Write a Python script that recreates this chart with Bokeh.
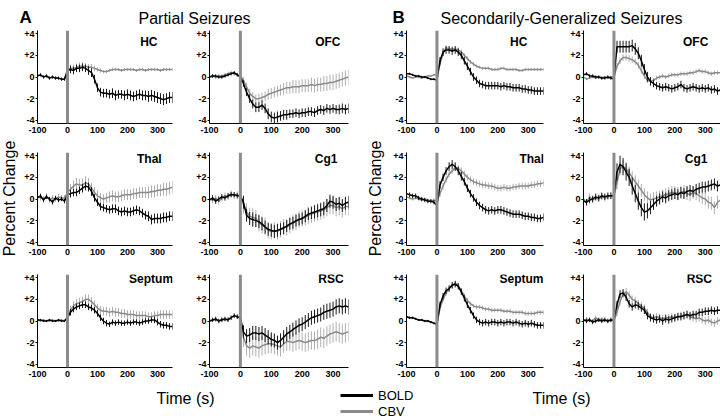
from bokeh.plotting import figure
from bokeh.layouts import row, column
from bokeh.models import (Range1d, FixedTicker, Span, Label, Legend, LegendItem,
                          ColumnDataSource)
from bokeh.embed import file_html
from bokeh.resources import INLINE

# ---------------- data (percent change, mean and error half-width) ----------------
TIME_S = [-100, -90, -80, -70, -60, -50, -40, -30, -20, -10,
          0,
          10, 20, 30, 40, 50, 60, 70, 80, 90, 100,
          110, 120, 130, 140, 150, 160, 170, 180, 190, 200,
          210, 220, 230, 240, 250, 260, 270, 280, 290, 300,
          310, 320, 330, 340, 350]

X_TICKS = [-100, 0, 100, 200, 300]
X_TICK_LABELS = ["-100", "0", "100", "200", "300"]
Y_TICKS = [-4, -2, 0, 2, 4]
Y_TICK_LABELS = ["-4", "-2", "0", "+2", "+4"]

GROUP_TITLES = ["Partial Seizures", "Secondarily-Generalized Seizures"]
GROUP_LETTERS = ["A", "B"]
REGIONS = [["HC", "OFC"], ["Thal", "Cg1"], ["Septum", "RSC"]]
SERIES_NAMES = ["BOLD", "CBV"]

# ---- A: partial seizures ----
A_HC_BOLD = [0.1, 0.2, 0.0, 0.1, -0.1, 0.0, -0.1, -0.1, -0.2, -0.2,
             0.6,
             0.7, 0.6, 0.8, 0.8, 0.9, 0.8, 0.6, 0.4, -0.2, -1.0,
             -1.4, -1.5, -1.5, -1.6, -1.5, -1.7, -1.6, -1.6, -1.7, -1.6,
             -1.7, -1.8, -1.7, -1.6, -1.7, -1.7, -1.8, -1.7, -1.8, -1.9,
             -2.0, -2.1, -2.0, -1.9, -1.9]
A_HC_BOLD_SEM = [0.15, 0.15, 0.15, 0.15, 0.15, 0.15, 0.15, 0.15, 0.15, 0.15,
                 0.3,
                 0.35, 0.35, 0.35, 0.35, 0.35, 0.35, 0.4, 0.4, 0.4, 0.4,
                 0.4, 0.4, 0.4, 0.4, 0.45, 0.45, 0.4, 0.4, 0.45, 0.45,
                 0.45, 0.45, 0.45, 0.45, 0.45, 0.45, 0.5, 0.5, 0.5, 0.5,
                 0.5, 0.5, 0.5, 0.5, 0.5]
A_HC_CBV = [0.1, 0.2, 0.0, 0.1, -0.1, 0.0, -0.1, -0.1, -0.2, -0.2,
            0.7,
            0.8, 0.8, 0.9, 1.0, 1.0, 1.0, 0.9, 0.9, 0.8, 0.7,
            0.6, 0.5, 0.5, 0.6, 0.7, 0.7, 0.7, 0.6, 0.7, 0.7,
            0.7, 0.7, 0.6, 0.7, 0.7, 0.6, 0.7, 0.7, 0.7, 0.7,
            0.6, 0.7, 0.7, 0.7, 0.7]
A_HC_CBV_SEM = [0.1, 0.1, 0.1, 0.1, 0.1, 0.1, 0.1, 0.1, 0.1, 0.1,
                0.3,
                0.35, 0.35, 0.35, 0.35, 0.35, 0.3, 0.3, 0.3, 0.25, 0.2,
                0.2, 0.15, 0.15, 0.15, 0.15, 0.15, 0.15, 0.15, 0.15, 0.15,
                0.15, 0.15, 0.15, 0.15, 0.15, 0.15, 0.15, 0.15, 0.15, 0.15,
                0.15, 0.15, 0.15, 0.15, 0.15]

A_OFC_BOLD = [0.0, 0.1, 0.1, 0.0, 0.0, 0.1, 0.2, 0.3, 0.4, 0.2,
              0.0,
              -0.6, -1.4, -2.0, -2.5, -2.8, -2.8, -2.6, -2.9, -3.4, -3.7,
              -3.8, -3.7, -3.6, -3.5, -3.5, -3.4, -3.4, -3.3, -3.4, -3.3,
              -3.3, -3.2, -3.2, -3.3, -3.1, -3.0, -3.1, -2.9, -3.0, -2.9,
              -3.0, -3.0, -2.9, -3.0, -2.9]
A_OFC_BOLD_SEM = [0.15, 0.15, 0.15, 0.15, 0.15, 0.15, 0.15, 0.15, 0.15, 0.15,
                  0.2,
                  0.3, 0.35, 0.4, 0.4, 0.45, 0.45, 0.45, 0.45, 0.5, 0.5,
                  0.5, 0.5, 0.45, 0.45, 0.45, 0.4, 0.4, 0.4, 0.4, 0.4,
                  0.4, 0.4, 0.4, 0.4, 0.4, 0.4, 0.4, 0.4, 0.4, 0.4,
                  0.4, 0.45, 0.45, 0.45, 0.45]
A_OFC_CBV = [0.0, 0.1, 0.0, 0.1, 0.1, 0.2, 0.3, 0.4, 0.3, 0.2,
             0.1,
             -0.3, -0.9, -1.5, -1.8, -2.0, -2.0, -1.9, -1.8, -1.6, -1.5,
             -1.4, -1.3, -1.2, -1.1, -1.0, -1.0, -0.9, -0.9, -0.9, -0.8,
             -0.8, -0.8, -0.7, -0.8, -0.7, -0.7, -0.6, -0.6, -0.5, -0.5,
             -0.4, -0.3, -0.2, -0.1, 0.0]
A_OFC_CBV_SEM = [0.2, 0.2, 0.2, 0.2, 0.2, 0.2, 0.2, 0.2, 0.2, 0.2,
                 0.2,
                 0.3, 0.35, 0.4, 0.4, 0.4, 0.45, 0.45, 0.45, 0.5, 0.5,
                 0.5, 0.5, 0.5, 0.55, 0.55, 0.55, 0.6, 0.6, 0.6, 0.6,
                 0.6, 0.6, 0.65, 0.65, 0.65, 0.65, 0.7, 0.7, 0.7, 0.7,
                 0.7, 0.7, 0.7, 0.7, 0.7]

A_THAL_BOLD = [0.1, 0.3, -0.1, 0.2, 0.0, -0.3, 0.1, -0.1, 0.0, -0.2,
               0.4,
               0.5, 0.6, 0.6, 0.8, 1.0, 1.2, 1.1, 0.7, 0.1, -0.3,
               -0.7, -0.8, -0.9, -1.0, -0.9, -0.9, -1.1, -1.2, -1.1, -1.2,
               -1.2, -1.1, -1.0, -1.1, -1.3, -1.5, -1.6, -1.9, -1.8, -1.8,
               -1.8, -1.7, -1.7, -1.6, -1.6]
A_THAL_BOLD_SEM = [0.2, 0.2, 0.2, 0.2, 0.2, 0.2, 0.2, 0.2, 0.2, 0.2,
                   0.3,
                   0.35, 0.35, 0.35, 0.35, 0.4, 0.4, 0.4, 0.4, 0.35, 0.35,
                   0.35, 0.35, 0.35, 0.35, 0.4, 0.4, 0.4, 0.4, 0.4, 0.4,
                   0.4, 0.4, 0.4, 0.4, 0.4, 0.4, 0.45, 0.45, 0.45, 0.45,
                   0.45, 0.45, 0.45, 0.45, 0.45]
A_THAL_CBV = [0.2, 0.1, 0.0, 0.3, -0.1, 0.1, 0.0, 0.2, 0.1, 0.1,
              0.6,
              0.9, 1.2, 1.4, 1.3, 1.3, 1.5, 1.4, 1.0, 0.6, 0.3,
              0.1, 0.0, 0.1, 0.2, 0.3, 0.2, 0.2, 0.3, 0.4, 0.4,
              0.4, 0.5, 0.5, 0.6, 0.6, 0.6, 0.6, 0.7, 0.7, 0.8,
              0.8, 0.9, 0.9, 1.0, 1.1]
A_THAL_CBV_SEM = [0.25, 0.25, 0.25, 0.25, 0.25, 0.25, 0.25, 0.25, 0.25, 0.25,
                  0.4,
                  0.5, 0.5, 0.55, 0.55, 0.6, 0.6, 0.55, 0.5, 0.5, 0.5,
                  0.45, 0.45, 0.45, 0.5, 0.5, 0.5, 0.5, 0.5, 0.5, 0.5,
                  0.5, 0.5, 0.5, 0.5, 0.5, 0.5, 0.55, 0.55, 0.55, 0.55,
                  0.55, 0.6, 0.6, 0.6, 0.6]

A_CG1_BOLD = [-0.1, 0.1, -0.2, 0.0, 0.2, 0.1, 0.3, 0.4, 0.4, 0.3,
              0.3,
              -0.3, -1.5, -1.8, -1.9, -2.0, -2.1, -2.3, -2.6, -2.8, -2.9,
              -3.0, -2.9, -2.8, -2.7, -2.5, -2.3, -2.2, -2.0, -1.9, -1.8,
              -1.6, -1.4, -1.3, -1.2, -1.1, -1.0, -0.9, -0.6, -0.2, -0.3,
              -0.5, -0.4, -0.6, -0.4, -0.3]
A_CG1_BOLD_SEM = [0.25, 0.25, 0.25, 0.25, 0.25, 0.25, 0.25, 0.25, 0.25, 0.25,
                  0.4,
                  0.6, 0.6, 0.6, 0.65, 0.6, 0.6, 0.6, 0.6, 0.6, 0.6,
                  0.6, 0.6, 0.55, 0.55, 0.55, 0.55, 0.55, 0.55, 0.55, 0.55,
                  0.55, 0.55, 0.55, 0.6, 0.6, 0.6, 0.6, 0.6, 0.6, 0.6,
                  0.6, 0.6, 0.6, 0.6, 0.6]
A_CG1_CBV = [0.0, -0.1, 0.1, -0.2, 0.1, 0.3, 0.2, 0.5, 0.3, 0.4,
             0.2,
             -0.5, -1.2, -1.6, -1.7, -1.8, -2.2, -2.4, -2.5, -2.9, -3.0,
             -2.9, -3.0, -2.8, -2.6, -2.6, -2.4, -2.2, -2.1, -1.9, -1.8,
             -1.7, -1.5, -1.4, -1.3, -1.2, -1.1, -1.0, -0.8, -0.6, -0.6,
             -0.8, -0.7, -0.9, -0.7, -0.7]
A_CG1_CBV_SEM = [0.3, 0.3, 0.3, 0.3, 0.3, 0.3, 0.3, 0.3, 0.3, 0.3,
                 0.5,
                 0.8, 0.8, 0.8, 0.85, 0.8, 0.8, 0.8, 0.8, 0.75, 0.75,
                 0.75, 0.75, 0.75, 0.75, 0.75, 0.75, 0.75, 0.75, 0.75, 0.75,
                 0.75, 0.8, 0.8, 0.8, 0.8, 0.8, 0.8, 0.8, 0.8, 0.8,
                 0.8, 0.8, 0.8, 0.8, 0.8]

A_SEPTUM_BOLD = [0.1, 0.1, 0.0, 0.0, 0.1, 0.0, 0.0, 0.1, 0.0, 0.0,
                 0.3,
                 0.8, 1.1, 1.3, 1.4, 1.5, 1.5, 1.3, 1.2, 1.0, 0.7,
                 0.3, 0.0, -0.2, -0.3, -0.1, -0.2, -0.1, -0.2, -0.2, -0.1,
                 -0.2, -0.1, -0.1, -0.2, -0.1, 0.0, 0.0, 0.1, 0.1, -0.1,
                 -0.3, -0.4, -0.4, -0.5, -0.5]
A_SEPTUM_BOLD_SEM = [0.1, 0.1, 0.1, 0.1, 0.1, 0.1, 0.1, 0.1, 0.1, 0.1,
                     0.2,
                     0.3, 0.3, 0.3, 0.3, 0.3, 0.3, 0.3, 0.3, 0.3, 0.3,
                     0.3, 0.3, 0.3, 0.25, 0.25, 0.25, 0.25, 0.25, 0.25, 0.25,
                     0.25, 0.25, 0.25, 0.25, 0.25, 0.25, 0.25, 0.25, 0.3, 0.3,
                     0.3, 0.3, 0.3, 0.3, 0.3]
A_SEPTUM_CBV = [0.1, 0.0, 0.1, 0.0, 0.0, 0.1, 0.0, 0.0, 0.1, 0.0,
                0.4,
                1.0, 1.4, 1.6, 1.7, 1.8, 2.0, 2.0, 1.8, 1.5, 1.2,
                1.0, 0.9, 0.9, 0.8, 0.9, 0.8, 0.8, 0.7, 0.7, 0.6,
                0.6, 0.6, 0.5, 0.5, 0.5, 0.5, 0.4, 0.4, 0.5, 0.5,
                0.6, 0.6, 0.6, 0.6, 0.6]
A_SEPTUM_CBV_SEM = [0.1, 0.1, 0.1, 0.1, 0.1, 0.1, 0.1, 0.1, 0.1, 0.1,
                    0.25,
                    0.4, 0.4, 0.45, 0.45, 0.45, 0.45, 0.45, 0.4, 0.4, 0.4,
                    0.4, 0.4, 0.4, 0.4, 0.4, 0.4, 0.4, 0.4, 0.4, 0.4,
                    0.4, 0.4, 0.4, 0.4, 0.4, 0.4, 0.4, 0.4, 0.4, 0.4,
                    0.4, 0.4, 0.4, 0.4, 0.4]

A_RSC_BOLD = [0.0, 0.1, 0.2, 0.0, 0.1, 0.2, 0.1, 0.3, 0.5, 0.4,
              0.3,
              -1.0, -1.4, -1.3, -1.1, -1.1, -1.2, -1.1, -1.3, -1.5, -1.7,
              -1.8, -2.0, -1.8, -1.5, -1.2, -1.0, -0.8, -0.6, -0.4, -0.3,
              -0.1, 0.1, 0.3, 0.4, 0.5, 0.6, 0.8, 0.9, 1.0, 1.1,
              1.3, 1.4, 1.3, 1.4, 1.3]
A_RSC_BOLD_SEM = [0.2, 0.2, 0.2, 0.2, 0.2, 0.2, 0.2, 0.2, 0.2, 0.2,
                  0.3,
                  0.6, 0.65, 0.65, 0.65, 0.65, 0.65, 0.65, 0.65, 0.65, 0.65,
                  0.65, 0.65, 0.65, 0.65, 0.65, 0.65, 0.65, 0.65, 0.65, 0.65,
                  0.65, 0.65, 0.65, 0.65, 0.65, 0.65, 0.7, 0.7, 0.7, 0.7,
                  0.7, 0.7, 0.7, 0.7, 0.7]
A_RSC_CBV = [0.0, 0.1, 0.1, 0.0, 0.2, 0.1, 0.2, 0.3, 0.5, 0.4,
             0.2,
             -1.5, -2.3, -2.5, -2.3, -2.4, -2.5, -2.3, -2.2, -2.1, -2.1,
             -2.2, -2.3, -2.4, -2.1, -1.9, -1.9, -2.0, -1.9, -1.8, -1.9,
             -2.0, -1.9, -1.8, -1.8, -1.7, -1.5, -1.6, -1.4, -1.2, -1.1,
             -1.0, -1.1, -1.2, -1.1, -1.0]
A_RSC_CBV_SEM = [0.2, 0.2, 0.2, 0.2, 0.2, 0.2, 0.2, 0.2, 0.2, 0.2,
                 0.4,
                 0.9, 0.9, 0.9, 0.9, 0.9, 0.9, 0.9, 0.9, 0.9, 0.9,
                 0.9, 0.9, 0.9, 0.85, 0.85, 0.85, 0.85, 0.85, 0.85, 0.85,
                 0.85, 0.85, 0.85, 0.85, 0.9, 0.9, 0.9, 0.9, 0.9, 0.9,
                 0.9, 0.9, 0.9, 0.9, 0.9]

# ---- B: secondarily-generalized seizures ----
B_HC_BOLD = [0.3, 0.3, 0.2, 0.1, 0.1, 0.0, 0.0, -0.1, -0.2, -0.2,
             -0.3,
             1.5, 2.3, 2.5, 2.5, 2.4, 2.5, 2.3, 2.0, 1.5, 1.0,
             0.5, 0.0, -0.3, -0.6, -0.7, -0.8, -0.8, -0.8, -0.8, -0.8,
             -0.9, -0.8, -0.9, -0.9, -1.0, -1.0, -1.0, -1.1, -1.1, -1.2,
             -1.2, -1.3, -1.3, -1.3, -1.3]
B_HC_BOLD_SEM = [0.1, 0.1, 0.1, 0.1, 0.1, 0.1, 0.1, 0.1, 0.1, 0.1,
                 0.2,
                 0.35, 0.35, 0.35, 0.35, 0.35, 0.35, 0.35, 0.35, 0.35, 0.35,
                 0.35, 0.35, 0.35, 0.35, 0.35, 0.35, 0.35, 0.35, 0.35, 0.35,
                 0.35, 0.35, 0.35, 0.35, 0.35, 0.35, 0.35, 0.35, 0.35, 0.35,
                 0.35, 0.35, 0.35, 0.35, 0.35]
B_HC_CBV = [0.1, 0.0, -0.1, 0.0, 0.0, -0.1, 0.0, 0.1, 0.1, 0.2,
            0.2,
            1.2, 2.2, 2.7, 2.6, 2.6, 2.6, 2.5, 2.3, 2.0, 1.7,
            1.4, 1.2, 1.0, 0.9, 0.8, 0.8, 0.8, 0.7, 0.7, 0.7,
            0.8, 0.8, 0.7, 0.7, 0.7, 0.7, 0.6, 0.6, 0.7, 0.7,
            0.7, 0.7, 0.7, 0.7, 0.7]
B_HC_CBV_SEM = [0.1, 0.1, 0.1, 0.1, 0.1, 0.1, 0.1, 0.1, 0.1, 0.1,
                0.2,
                0.25, 0.25, 0.25, 0.25, 0.25, 0.25, 0.25, 0.25, 0.2, 0.2,
                0.2, 0.2, 0.15, 0.15, 0.15, 0.15, 0.15, 0.15, 0.15, 0.15,
                0.15, 0.15, 0.15, 0.15, 0.15, 0.15, 0.15, 0.15, 0.15, 0.15,
                0.15, 0.15, 0.15, 0.15, 0.15]

B_OFC_BOLD = [0.2, 0.3, 0.1, 0.1, 0.0, 0.0, -0.1, -0.1, 0.0, -0.1,
              -0.2,
              2.8, 2.8, 2.8, 2.8, 2.8, 2.9, 2.6, 2.2, 1.5, 0.7,
              0.0, -0.4, -0.6, -0.8, -0.9, -1.0, -0.9, -1.0, -1.1, -1.0,
              -0.9, -0.7, -1.0, -1.1, -1.0, -0.9, -1.0, -1.1, -1.0, -1.1,
              -1.0, -1.2, -1.1, -1.3, -1.2]
B_OFC_BOLD_SEM = [0.15, 0.15, 0.15, 0.15, 0.15, 0.15, 0.15, 0.15, 0.15, 0.15,
                  0.3,
                  0.55, 0.55, 0.55, 0.55, 0.55, 0.55, 0.55, 0.55, 0.55, 0.5,
                  0.45, 0.4, 0.35, 0.35, 0.35, 0.35, 0.35, 0.35, 0.35, 0.35,
                  0.35, 0.35, 0.35, 0.35, 0.35, 0.35, 0.35, 0.35, 0.35, 0.35,
                  0.35, 0.35, 0.35, 0.35, 0.35]
B_OFC_CBV = [0.0, -0.2, -0.1, 0.0, -0.1, 0.0, -0.1, 0.0, -0.1, 0.0,
             0.0,
             1.0, 1.5, 1.8, 1.8, 1.7, 1.6, 1.4, 1.1, 0.6, 0.1,
             -0.3, -0.4, -0.3, -0.1, 0.0, 0.1, 0.0, 0.1, 0.2, 0.2,
             0.2, 0.3, 0.3, 0.3, 0.4, 0.4, 0.5, 0.6, 0.5, 0.5,
             0.4, 0.3, 0.4, 0.4, 0.4]
B_OFC_CBV_SEM = [0.1, 0.1, 0.1, 0.1, 0.1, 0.1, 0.1, 0.1, 0.1, 0.1,
                 0.2,
                 0.3, 0.3, 0.3, 0.3, 0.3, 0.3, 0.3, 0.3, 0.3, 0.3,
                 0.25, 0.2, 0.2, 0.2, 0.2, 0.2, 0.2, 0.2, 0.2, 0.2,
                 0.2, 0.2, 0.2, 0.2, 0.2, 0.2, 0.2, 0.2, 0.2, 0.2,
                 0.2, 0.2, 0.2, 0.2, 0.2]

B_THAL_BOLD = [0.5, 0.4, 0.3, 0.3, 0.1, 0.0, -0.1, -0.2, -0.2, -0.3,
               -0.6,
               1.3, 2.0, 2.6, 3.0, 3.2, 3.0, 2.6, 2.1, 1.6, 1.0,
               0.5, 0.1, -0.3, -0.6, -0.8, -1.0, -1.1, -1.0, -1.1, -1.0,
               -1.0, -1.1, -1.2, -1.3, -1.4, -1.4, -1.4, -1.5, -1.6, -1.6,
               -1.7, -1.7, -1.8, -1.8, -1.7]
B_THAL_BOLD_SEM = [0.2, 0.2, 0.2, 0.2, 0.2, 0.2, 0.2, 0.2, 0.2, 0.2,
                   0.3,
                   0.35, 0.35, 0.35, 0.4, 0.4, 0.4, 0.4, 0.4, 0.35, 0.35,
                   0.35, 0.35, 0.35, 0.35, 0.35, 0.35, 0.35, 0.35, 0.35, 0.35,
                   0.35, 0.35, 0.35, 0.35, 0.35, 0.35, 0.35, 0.35, 0.35, 0.35,
                   0.35, 0.35, 0.35, 0.35, 0.35]
B_THAL_CBV = [0.2, 0.1, 0.0, 0.1, 0.0, -0.1, 0.0, -0.1, -0.2, -0.1,
              -0.2,
              0.5, 1.2, 1.8, 2.3, 2.6, 2.9, 2.8, 2.6, 2.3, 2.0,
              1.8, 1.6, 1.5, 1.4, 1.3, 1.3, 1.2, 1.2, 1.1, 1.0,
              1.0, 1.1, 1.0, 1.0, 1.1, 1.1, 1.2, 1.2, 1.2, 1.2,
              1.3, 1.3, 1.4, 1.4, 1.5]
B_THAL_CBV_SEM = [0.15, 0.15, 0.15, 0.15, 0.15, 0.15, 0.15, 0.15, 0.15, 0.15,
                  0.2,
                  0.3, 0.3, 0.3, 0.3, 0.3, 0.3, 0.3, 0.3, 0.3, 0.3,
                  0.3, 0.3, 0.3, 0.3, 0.3, 0.3, 0.3, 0.3, 0.3, 0.3,
                  0.3, 0.3, 0.3, 0.3, 0.3, 0.3, 0.3, 0.3, 0.3, 0.3,
                  0.3, 0.3, 0.3, 0.3, 0.3]

B_CG1_BOLD = [-0.2, -0.3, -0.1, 0.0, 0.2, 0.1, 0.3, 0.2, 0.3, 0.3,
              0.3,
              2.5, 3.2, 3.0, 2.5, 2.0, 1.2, 0.5, -0.2, -0.8, -1.2,
              -1.1, -0.8, -0.5, -0.2, 0.0, 0.2, 0.1, 0.3, 0.4, 0.5,
              0.4, 0.6, 0.5, 0.7, 0.8, 0.7, 0.9, 1.0, 1.1, 1.1,
              1.2, 1.3, 1.4, 1.2, 1.3]
B_CG1_BOLD_SEM = [0.3, 0.3, 0.3, 0.3, 0.3, 0.3, 0.3, 0.3, 0.3, 0.3,
                  0.4,
                  0.8, 0.8, 0.8, 0.8, 0.8, 0.8, 0.8, 0.8, 0.8, 0.8,
                  0.7, 0.6, 0.5, 0.5, 0.5, 0.5, 0.5, 0.5, 0.5, 0.5,
                  0.5, 0.5, 0.5, 0.5, 0.5, 0.5, 0.5, 0.5, 0.5, 0.5,
                  0.5, 0.5, 0.5, 0.5, 0.5]
B_CG1_CBV = [0.0, -0.3, 0.2, -0.1, 0.1, 0.0, 0.2, 0.1, 0.2, 0.3,
             0.2,
             1.5, 2.8, 3.0, 2.8, 2.4, 2.0, 1.6, 1.2, 0.8, 0.4,
             0.1, -0.1, 0.0, 0.1, 0.2, 0.3, 0.4, 0.5, 0.6, 0.6,
             0.5, 0.6, 0.7, 0.5, 0.4, 0.6, 0.5, 0.3, 0.1, 0.0,
             -0.3, -0.4, -0.8, -0.3, -0.1]
B_CG1_CBV_SEM = [0.3, 0.3, 0.3, 0.3, 0.3, 0.3, 0.3, 0.3, 0.3, 0.3,
                 0.4,
                 0.6, 0.6, 0.6, 0.6, 0.6, 0.6, 0.6, 0.6, 0.6, 0.6,
                 0.6, 0.6, 0.6, 0.6, 0.6, 0.6, 0.6, 0.6, 0.6, 0.6,
                 0.6, 0.6, 0.6, 0.6, 0.6, 0.6, 0.6, 0.6, 0.6, 0.6,
                 0.6, 0.6, 0.6, 0.6, 0.6]

B_SEPTUM_BOLD = [0.4, 0.3, 0.3, 0.2, 0.1, 0.1, 0.0, 0.0, -0.1, -0.2,
                 -0.3,
                 1.5, 2.3, 2.8, 3.0, 3.3, 3.4, 3.2, 2.7, 2.1, 1.5,
                 1.0, 0.5, 0.1, -0.1, -0.2, -0.1, -0.2, -0.1, -0.1, -0.2,
                 -0.1, -0.2, -0.1, -0.1, -0.2, -0.1, -0.2, -0.3, -0.2, -0.3,
                 -0.2, -0.3, -0.4, -0.4, -0.4]
B_SEPTUM_BOLD_SEM = [0.1, 0.1, 0.1, 0.1, 0.1, 0.1, 0.1, 0.1, 0.1, 0.1,
                     0.2,
                     0.3, 0.3, 0.3, 0.3, 0.3, 0.3, 0.3, 0.3, 0.3, 0.3,
                     0.3, 0.3, 0.3, 0.3, 0.3, 0.3, 0.3, 0.3, 0.3, 0.3,
                     0.3, 0.3, 0.3, 0.3, 0.3, 0.3, 0.3, 0.3, 0.3, 0.3,
                     0.3, 0.3, 0.3, 0.3, 0.3]
B_SEPTUM_CBV = [0.4, 0.3, 0.3, 0.2, 0.1, 0.1, 0.0, 0.0, -0.1, -0.2,
                -0.3,
                1.2, 2.0, 2.6, 3.0, 3.3, 3.5, 3.3, 2.8, 2.3, 1.9,
                1.6, 1.4, 1.3, 1.3, 1.2, 1.1, 1.1, 1.0, 1.0, 1.0,
                1.0, 0.9, 0.9, 0.9, 0.8, 0.8, 0.8, 0.8, 0.7, 0.7,
                0.7, 0.7, 0.8, 0.8, 0.8]
B_SEPTUM_CBV_SEM = [0.1, 0.1, 0.1, 0.1, 0.1, 0.1, 0.1, 0.1, 0.1, 0.1,
                    0.2,
                    0.25, 0.25, 0.25, 0.25, 0.25, 0.25, 0.25, 0.25, 0.25, 0.25,
                    0.2, 0.2, 0.2, 0.2, 0.2, 0.2, 0.2, 0.2, 0.2, 0.2,
                    0.2, 0.2, 0.2, 0.2, 0.2, 0.2, 0.2, 0.2, 0.2, 0.2,
                    0.2, 0.2, 0.2, 0.2, 0.2]

B_RSC_BOLD = [0.1, 0.0, 0.1, -0.1, 0.0, 0.1, 0.0, 0.1, 0.0, 0.1,
              0.1,
              1.5, 2.5, 2.6, 2.2, 1.6, 1.3, 1.5, 1.4, 1.2, 1.0,
              0.5, 0.3, 0.2, 0.1, 0.2, 0.0, 0.2, 0.1, 0.2, 0.3,
              0.4, 0.4, 0.5, 0.6, 0.5, 0.6, 0.6, 0.8, 0.8, 0.9,
              0.9, 1.0, 0.9, 1.0, 1.0]
B_RSC_BOLD_SEM = [0.2, 0.2, 0.2, 0.2, 0.2, 0.2, 0.2, 0.2, 0.2, 0.2,
                  0.3,
                  0.35, 0.35, 0.35, 0.35, 0.35, 0.35, 0.35, 0.35, 0.35, 0.35,
                  0.35, 0.35, 0.35, 0.35, 0.35, 0.35, 0.35, 0.35, 0.35, 0.35,
                  0.35, 0.35, 0.35, 0.35, 0.35, 0.35, 0.35, 0.35, 0.35, 0.35,
                  0.35, 0.35, 0.35, 0.35, 0.35]
B_RSC_CBV = [0.0, 0.2, 0.1, 0.0, 0.3, 0.1, 0.2, 0.1, 0.0, 0.1,
             0.0,
             0.8, 1.8, 2.5, 2.7, 2.4, 2.0, 1.9, 1.6, 1.4, 1.2,
             0.8, 0.4, 0.3, 0.4, 0.3, 0.2, 0.3, 0.3, 0.4, 0.3,
             0.4, 0.5, 0.5, 0.6, 0.4, 0.3, 0.2, 0.3, 0.1, 0.0,
             0.1, -0.1, -0.2, 0.0, 0.1]
B_RSC_CBV_SEM = [0.2, 0.2, 0.2, 0.2, 0.2, 0.2, 0.2, 0.2, 0.2, 0.2,
                 0.3,
                 0.35, 0.35, 0.35, 0.35, 0.35, 0.35, 0.35, 0.35, 0.35, 0.35,
                 0.35, 0.35, 0.35, 0.35, 0.35, 0.35, 0.35, 0.35, 0.35, 0.35,
                 0.35, 0.35, 0.35, 0.35, 0.35, 0.35, 0.35, 0.35, 0.35, 0.35,
                 0.35, 0.35, 0.35, 0.35, 0.35]

DATA = {
    ("A", "HC"): (A_HC_BOLD, A_HC_BOLD_SEM, A_HC_CBV, A_HC_CBV_SEM),
    ("A", "OFC"): (A_OFC_BOLD, A_OFC_BOLD_SEM, A_OFC_CBV, A_OFC_CBV_SEM),
    ("A", "Thal"): (A_THAL_BOLD, A_THAL_BOLD_SEM, A_THAL_CBV, A_THAL_CBV_SEM),
    ("A", "Cg1"): (A_CG1_BOLD, A_CG1_BOLD_SEM, A_CG1_CBV, A_CG1_CBV_SEM),
    ("A", "Septum"): (A_SEPTUM_BOLD, A_SEPTUM_BOLD_SEM, A_SEPTUM_CBV, A_SEPTUM_CBV_SEM),
    ("A", "RSC"): (A_RSC_BOLD, A_RSC_BOLD_SEM, A_RSC_CBV, A_RSC_CBV_SEM),
    ("B", "HC"): (B_HC_BOLD, B_HC_BOLD_SEM, B_HC_CBV, B_HC_CBV_SEM),
    ("B", "OFC"): (B_OFC_BOLD, B_OFC_BOLD_SEM, B_OFC_CBV, B_OFC_CBV_SEM),
    ("B", "Thal"): (B_THAL_BOLD, B_THAL_BOLD_SEM, B_THAL_CBV, B_THAL_CBV_SEM),
    ("B", "Cg1"): (B_CG1_BOLD, B_CG1_BOLD_SEM, B_CG1_CBV, B_CG1_CBV_SEM),
    ("B", "Septum"): (B_SEPTUM_BOLD, B_SEPTUM_BOLD_SEM, B_SEPTUM_CBV, B_SEPTUM_CBV_SEM),
    ("B", "RSC"): (B_RSC_BOLD, B_RSC_BOLD_SEM, B_RSC_CBV, B_RSC_CBV_SEM),
}

# ---------------- style ----------------
FONT = "Liberation Sans"
TEXT_COLOR = "#000000"
BOLD_COLOR = "#000000"
BOLD_BAR = "#1a1a1a"
CBV_COLOR = "#8a8a8a"
CBV_BAR = "#b0b0b0"
ZERO_BAR = "#8c8c8c"

# region label positions (data units) inside each panel
LABEL_POS = {
    ("A", "HC"): (300, 3.2), ("A", "OFC"): (324, 3.2),
    ("A", "Thal"): (314, 3.7), ("A", "Cg1"): (314, 3.7),
    ("A", "Septum"): (352, 3.85), ("A", "RSC"): (334, 3.85),
    ("B", "HC"): (297, 3.2), ("B", "OFC"): (310, 3.2),
    ("B", "Thal"): (352, 3.7), ("B", "Cg1"): (307, 3.7),
    ("B", "Septum"): (350, 3.85), ("B", "RSC"): (322, 3.85),
}

# (width, border_left, border_right) for the 4 panel columns
COL_GEOM = [(169, 14, 18), (172, 19, 14), (177, 21, 19), (158, 21, 0)]
# (height, border_top, border_bottom) for the 3 panel rows
ROW_GEOM = [(122, 3, 26), (122, 3, 26), (112, 3, 16)]
HEADER_H = 27
FOOTER_H = 37


def make_panel(group, region, col_geom, row_geom):
    w, bl, br = col_geom
    h, bt, bb = row_geom
    p = figure(width=w, height=h, x_range=Range1d(-100, 350), y_range=Range1d(-4.3, 4.3),
               output_backend="svg", toolbar_location=None, tools="",
               min_border_left=bl, min_border_right=br,
               min_border_top=bt, min_border_bottom=bb)
    p.outline_line_color = None
    p.grid.visible = False
    p.background_fill_color = "white"
    p.border_fill_color = "white"

    for ax in (p.xaxis[0], p.yaxis[0]):
        ax.axis_line_color = "black"
        ax.axis_line_width = 1
        ax.minor_tick_line_color = None
        ax.major_tick_line_color = "black"
        ax.major_tick_in = 0
        ax.major_label_text_font = FONT
        ax.major_label_text_font_style = "bold"
        ax.major_label_text_font_size = "9px"
        ax.major_label_text_color = TEXT_COLOR
    p.xaxis.ticker = FixedTicker(ticks=X_TICKS)
    p.xaxis.major_label_overrides = {t: l for t, l in zip(X_TICKS, X_TICK_LABELS)}
    p.xaxis.major_tick_out = 0
    p.xaxis.major_label_standoff = 3
    p.yaxis.ticker = FixedTicker(ticks=Y_TICKS)
    p.yaxis.major_label_overrides = {t: l for t, l in zip(Y_TICKS, Y_TICK_LABELS)}
    p.yaxis.major_tick_out = 2
    p.yaxis.major_label_standoff = 1

    bold, bold_sem, cbv, cbv_sem = DATA[(group, region)]
    for mean, sem, line_c, bar_c in ((cbv, cbv_sem, CBV_COLOR, CBV_BAR),
                                     (bold, bold_sem, BOLD_COLOR, BOLD_BAR)):
        src = ColumnDataSource(dict(
            t=TIME_S, m=mean,
            lo=[m - e for m, e in zip(mean, sem)],
            hi=[m + e for m, e in zip(mean, sem)]))
        p.segment(x0="t", y0="lo", x1="t", y1="hi", source=src,
                  line_color=bar_c, line_width=1)
        p.line(x="t", y="m", source=src, line_color=line_c, line_width=1.5)

    p.add_layout(Span(location=0, dimension="height", line_color=ZERO_BAR, line_width=3))
    lx, ly = LABEL_POS[(group, region)]
    p.add_layout(Label(x=lx, y=ly, text=region, text_align="right",
                       text_baseline="middle", text_font=FONT,
                       text_font_style="bold", text_font_size="12px",
                       text_color=TEXT_COLOR))
    return p


def blank(w, h):
    p = figure(width=w, height=h, x_range=Range1d(0, w), y_range=Range1d(0, h),
               x_axis_type=None, y_axis_type=None, output_backend="svg",
               toolbar_location=None, tools="", min_border=0)
    p.outline_line_color = None
    p.background_fill_color = "white"
    p.border_fill_color = "white"
    return p


# ---------------- header ----------------
headers = []
for gi, (gw, letter_x, title_x) in enumerate([(362, 19, 194), (358, 30, 199)]):
    hp = blank(gw, HEADER_H)
    hp.add_layout(Label(x=letter_x, y=HEADER_H - 17, text=GROUP_LETTERS[gi],
                        text_align="left", text_baseline="alphabetic", text_font=FONT,
                        text_font_style="bold", text_font_size="17px",
                        text_color=TEXT_COLOR))
    hp.add_layout(Label(x=title_x, y=HEADER_H - 18, text=GROUP_TITLES[gi],
                        text_align="center", text_baseline="alphabetic",
                        text_font=FONT, text_font_size="16px", text_color=TEXT_COLOR))
    headers.append(hp)

# ---------------- panels ----------------
STRIP_H = sum(g[0] for g in ROW_GEOM)


def strip(w, cx):
    sp = blank(w, STRIP_H)
    sp.add_layout(Label(x=cx, y=STRIP_H - 171, text="Percent Change", angle=90,
                        angle_units="deg", text_align="center", text_baseline="middle",
                        text_font=FONT, text_font_size="16px", text_color=TEXT_COLOR))
    return sp


cols = []
for gi, group in enumerate(GROUP_LETTERS):
    cols.append(strip(21 if gi == 0 else 23, 9 if gi == 0 else 13))
    for ci in range(2):
        panels = [make_panel(group, REGIONS[ri][ci], COL_GEOM[gi * 2 + ci], ROW_GEOM[ri])
                  for ri in range(3)]
        cols.append(column(*panels, spacing=0))

# ---------------- footer ----------------
footer = blank(720, FOOTER_H)
for cx in (185, 561):
    footer.add_layout(Label(x=cx, y=FOOTER_H - 15, text="Time (s)", text_align="center",
                            text_baseline="alphabetic", text_font=FONT,
                            text_font_size="16px", text_color=TEXT_COLOR))
nan = float("nan")
r_bold = footer.line(x=[nan], y=[nan], line_color=BOLD_COLOR, line_width=3)
r_cbv = footer.line(x=[nan], y=[nan], line_color=CBV_COLOR, line_width=3)
legend = Legend(items=[LegendItem(label=SERIES_NAMES[0], renderers=[r_bold]),
                       LegendItem(label=SERIES_NAMES[1], renderers=[r_cbv])],
                location=(340, 1), orientation="vertical",
                glyph_width=33, glyph_height=16, label_height=16, label_standoff=5,
                spacing=0, padding=0, margin=0,
                border_line_color=None, background_fill_alpha=0,
                label_text_font=FONT, label_text_font_size="13px",
                label_text_color=TEXT_COLOR)
footer.add_layout(legend)

layout = column(row(*headers, spacing=0),
                row(*cols, spacing=0),
                footer, spacing=0)

open("out.html", "w").write(file_html(layout, INLINE))
